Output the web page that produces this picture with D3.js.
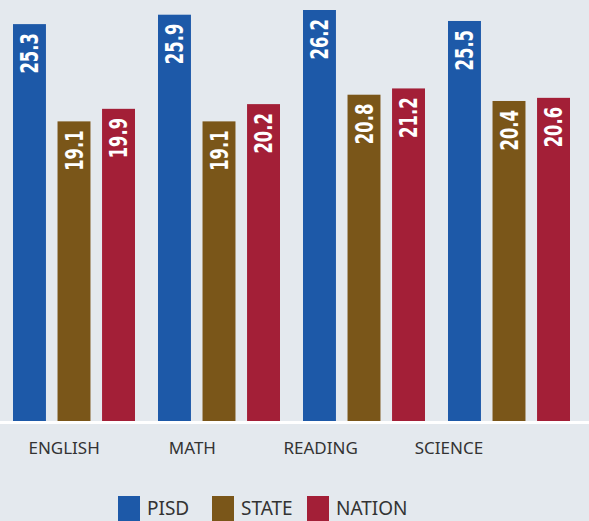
<!DOCTYPE html>
<html><head><meta charset="utf-8">
<script src="https://cdn.jsdelivr.net/npm/d3@7"></script>
<style>
html,body{margin:0;padding:0;background:#e4e9ee;}
svg{display:block;}
</style></head>
<body>
<svg id="chart" width="589" height="521"></svg>
<script>
const categories = ["ENGLISH", "MATH", "READING", "SCIENCE"];
const seriesNames = ["PISD", "STATE", "NATION"];
const pisd = [25.3, 25.9, 26.2, 25.5];
const state = [19.1, 19.1, 20.8, 20.4];
const nation = [19.9, 20.2, 21.2, 20.6];
const colors = ["#1d59a8", "#7a5619", "#a31f37"];

const seriesValues = [pisd, state, nation];
const svg = d3.select("#chart");
const W = 589, H = 521;
svg.append("rect").attr("width", W).attr("height", H).attr("fill", "#e4e9ee");

const baseY = 421;
const y = d3.scaleLinear().domain([0, 26.2]).range([baseY, 10]);
const x0 = d3.scaleBand().domain(categories).range([13, 593]).paddingInner(0).paddingOuter(0);
const x1 = d3.scaleBand().domain(seriesNames).range([0, 122]).paddingInner(0.26).paddingOuter(0);
const xl = d3.scaleBand().domain(categories).range([0, 513]);

const data = [];
categories.forEach((c, i) => seriesNames.forEach((s, j) => data.push({c, s, j, v: seriesValues[j][i]})));

const g = svg.append("g");
g.selectAll("rect.bar").data(data).join("rect")
  .attr("class", "bar")
  .attr("x", d => x0(d.c) + x1(d.s))
  .attr("y", d => y(d.v))
  .attr("width", x1.bandwidth())
  .attr("height", d => baseY - y(d.v))
  .attr("fill", d => colors[d.j]);

g.selectAll("text.val").data(data).join("text")
  .attr("class", "val")
  .attr("transform", d => `translate(${x0(d.c) + x1(d.s) + x1.bandwidth() / 2 + 8.5},${y(d.v) + 9}) rotate(-90) scale(0.76,1)`)
  .attr("text-anchor", "end")
  .attr("fill", "#fff")
  .style("font-family", "'DejaVu Sans Condensed', 'DejaVu Sans', sans-serif")
  .style("font-weight", "bold")
  .style("font-size", "24px")
  .text(d => d.v.toFixed(1));

// white baseline
svg.append("rect").attr("x", 0).attr("y", baseY).attr("width", W).attr("height", 3).attr("fill", "#ffffff");

// category labels
const xAxis = d3.axisBottom(xl).tickSize(0).tickPadding(0);
const ax = svg.append("g").attr("transform", `translate(0,${baseY + 21})`).call(xAxis);
ax.select(".domain").remove();
ax.selectAll("text")
  .attr("fill", "#333")
  .style("font-family", "'Noto Sans', sans-serif")
  .style("font-size", "17px");

// legend
const legX = [118, 212, 307];
const leg = svg.append("g");
seriesNames.forEach((s, j) => {
  leg.append("rect").attr("x", legX[j]).attr("y", 496).attr("width", 22).attr("height", 25).attr("fill", colors[j]);
  leg.append("text").attr("x", legX[j] + 29).attr("y", 515)
    .attr("fill", "#333")
    .style("font-family", "'Noto Sans', sans-serif")
    .style("font-size", "19px")
    .text(s);
});
</script>
</body></html>
